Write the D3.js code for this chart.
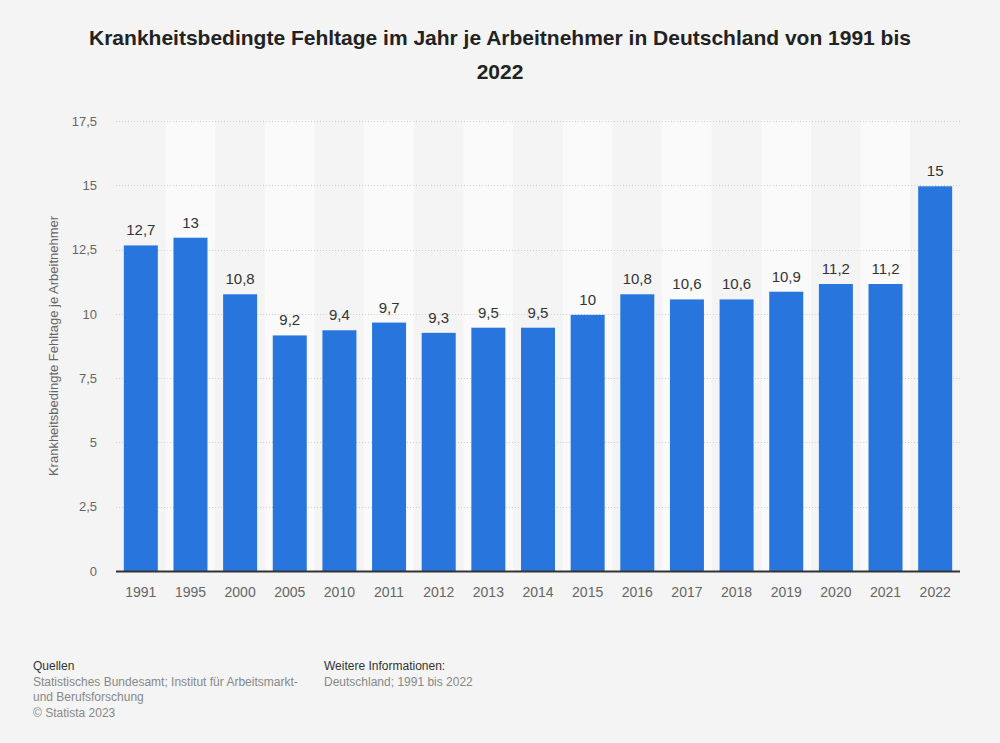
<!DOCTYPE html>
<html><head><meta charset="utf-8">
<script src="https://cdn.jsdelivr.net/npm/d3@7"></script>
<style>body{margin:0;background:#f4f4f4;}svg{display:block;font-family:"Liberation Sans",Arial,sans-serif;}</style>
</head><body>
<script>
const categories = ["1991","1995","2000","2005","2010","2011","2012","2013","2014","2015","2016","2017","2018","2019","2020","2021","2022"];
const values = [12.7,13,10.8,9.2,9.4,9.7,9.3,9.5,9.5,10,10.8,10.6,10.6,10.9,11.2,11.2,15];
const yTicks = [0,2.5,5,7.5,10,12.5,15,17.5];
const title = ["Krankheitsbedingte Fehltage im Jahr je Arbeitnehmer in Deutschland von 1991 bis","2022"];
const yLabel = "Krankheitsbedingte Fehltage je Arbeitnehmer";

const W=1000,H=743;
const svg=d3.select("body").append("svg").attr("width",W).attr("height",H);
svg.append("rect").attr("width",W).attr("height",H).attr("fill","#f4f4f4");
const fmt = v => String(v).replace(".",",");

const x=d3.scaleBand().domain(categories).range([116,960]).paddingInner(0).paddingOuter(0);
const y=d3.scaleLinear().domain([0,17.5]).range([571,121]);

// stripes
svg.append("g").selectAll("rect").data(categories).join("rect")
  .attr("x",d=>x(d)).attr("y",120).attr("width",x.bandwidth()).attr("height",571-120)
  .attr("fill",(d,i)=>i%2===1?"#fafafa":"#f4f4f4");

// grid
svg.append("g").selectAll("line").data(yTicks.filter(t=>t>0)).join("line")
  .attr("x1",116).attr("x2",960).attr("y1",d=>Math.round(y(d))+0.5).attr("y2",d=>Math.round(y(d))+0.5)
  .attr("stroke","#cfcfcf").attr("stroke-width",1).attr("stroke-dasharray","1,2");

// y axis labels
const yAxis=d3.axisLeft(y).tickValues(yTicks).tickFormat(fmt).tickSize(0).tickPadding(0);
const ga=svg.append("g").attr("transform","translate(97,0)").call(yAxis);
ga.select(".domain").remove();
ga.selectAll("text").attr("fill","#666").attr("font-size","13px").attr("font-family","Liberation Sans, Arial, sans-serif");

// bars
const bw=34;
svg.append("g").selectAll("rect").data(values).join("rect")
  .attr("x",(d,i)=>x(categories[i])+x.bandwidth()/2-bw/2).attr("width",bw)
  .attr("y",d=>y(d)+1).attr("height",d=>y(0)-y(d)-1).attr("fill","#2876dd");

// value labels
svg.append("g").selectAll("text").data(values).join("text")
  .attr("x",(d,i)=>x(categories[i])+x.bandwidth()/2).attr("y",d=>y(d)-9)
  .attr("text-anchor","middle").attr("font-size","15px").attr("fill","#333").text(fmt);

// baseline
svg.append("line").attr("x1",116).attr("x2",960).attr("y1",571.5).attr("y2",571.5).attr("stroke","#333").attr("stroke-width",2);

// x axis
const xAxis=d3.axisBottom(x).tickSize(0).tickPadding(0);
const gx=svg.append("g").attr("transform","translate(0,587)").call(xAxis);
gx.select(".domain").remove();
gx.selectAll("text").attr("fill","#666").attr("font-size","14px").attr("font-family","Liberation Sans, Arial, sans-serif").attr("dy","0.71em");

// y label
svg.append("text").attr("transform","translate(58,346) rotate(-90)").attr("text-anchor","middle")
  .attr("font-size","13px").attr("fill","#666").text(yLabel);

// title
svg.append("g").selectAll("text").data(title).join("text")
  .attr("x",500).attr("y",(d,i)=>45+i*34).attr("text-anchor","middle")
  .attr("font-size","21px").attr("font-weight","bold").attr("fill","#222").text(d=>d);

// footer
const f=svg.append("g").attr("font-size","12px");
f.append("text").attr("x",33).attr("y",670).attr("fill","#333").text("Quellen");
f.append("text").attr("x",33).attr("y",686).attr("fill","#888").text("Statistisches Bundesamt; Institut für Arbeitsmarkt-");
f.append("text").attr("x",33).attr("y",701).attr("fill","#888").text("und Berufsforschung");
f.append("text").attr("x",33).attr("y",717).attr("fill","#888").text("© Statista 2023");
f.append("text").attr("x",324).attr("y",670).attr("fill","#333").text("Weitere Informationen:");
f.append("text").attr("x",324).attr("y",686).attr("fill","#888").text("Deutschland; 1991 bis 2022");
</script>
</body></html>
